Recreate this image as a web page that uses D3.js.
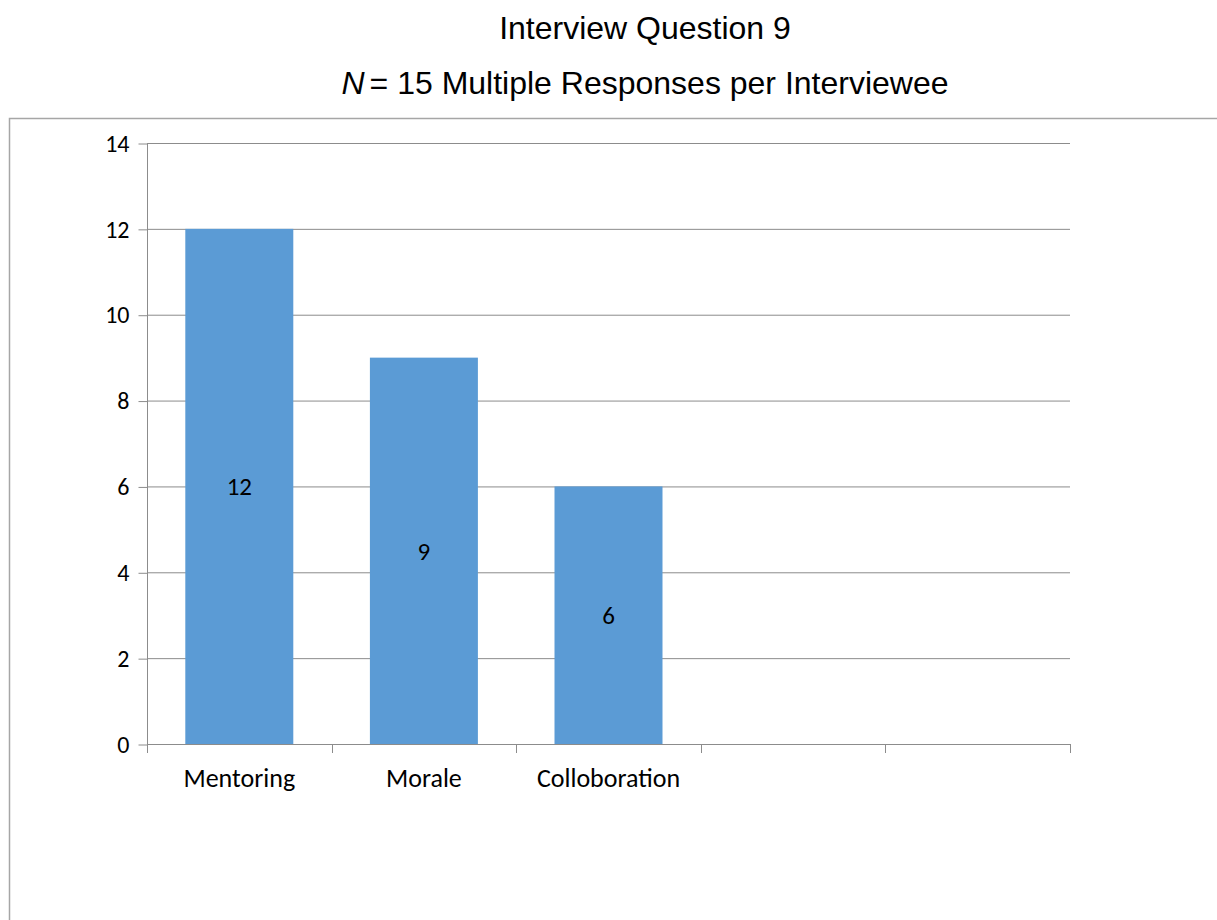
<!DOCTYPE html>
<html><head><meta charset="utf-8">
<script src="https://cdn.jsdelivr.net/npm/d3@7"></script>
<style>body{margin:0;background:#fff}svg{display:block}</style>
</head><body>
<svg id="c" width="1217" height="920"></svg>
<script>
const categories = ["Mentoring", "Morale", "Colloboration", "", " "];
const values = [12, 9, 6, null, null];
const yTicks = [0, 2, 4, 6, 8, 10, 12, 14];
const titleLine1 = "Interview Question 9";
const titleLine2 = "= 15 Multiple Responses per Interviewee";

(function () {
const svg = d3.select("#c");
const pL = 147, pR = 1070, pT = 143, pB = 744;
const lab = "Calibri, Carlito, 'Open Sans', sans-serif";

// outer chart border (clipped by page)
svg.append("rect").attr("x", 9.5).attr("y", 118.5).attr("width", 1300).attr("height", 900)
  .attr("fill", "none").attr("stroke", "#a6a6a6").attr("stroke-width", 1.5);

const x = d3.scaleBand().domain(categories).range([pL, pR]).paddingInner(0.415).paddingOuter(0.2075);
const y = d3.scaleLinear().domain([0, 14]).range([pB, pT]);

// gridlines
svg.append("g").selectAll("line").data(yTicks.filter(d => d > 0)).join("line")
  .attr("x1", pL).attr("x2", pR).attr("y1", d => y(d) + 0.5).attr("y2", d => y(d) + 0.5)
  .attr("stroke", "#8c8c8c").attr("stroke-width", 1);

// bars
const data = categories.map((c, i) => ({c, v: values[i]})).filter(d => d.v != null);
svg.append("g").selectAll("rect").data(data).join("rect")
  .attr("x", d => x(d.c)).attr("width", x.bandwidth())
  .attr("y", d => y(d.v)).attr("height", d => y(0) - y(d.v))
  .attr("fill", "#5b9bd5");

// value labels
svg.append("g").selectAll("text").data(data).join("text")
  .attr("x", d => x(d.c) + x.bandwidth() / 2)
  .attr("y", d => (y(d.v) + y(0)) / 2 + 9)
  .attr("text-anchor", "middle").attr("font-family", lab).attr("font-size", 25).attr("fill", "#000")
  .text(d => d.v);

// y axis
const yAxis = d3.axisLeft(y).tickValues(yTicks).tickSize(9).tickPadding(9).tickFormat(d3.format("d"));
const gy = svg.append("g").attr("transform", `translate(${pL + 0.5},0.5)`).call(yAxis);
gy.select(".domain").attr("stroke", "#8c8c8c").attr("d", `M0,${pT}V${pB}`);
gy.selectAll(".tick line").attr("stroke", "#8c8c8c");
gy.selectAll(".tick text").attr("font-family", lab).attr("font-size", 24).attr("fill", "#000");

// x axis baseline and ticks
const step = x.step();
const bounds = d3.range(categories.length + 1).map(i => pL + i * step);
svg.append("line").attr("x1", pL).attr("x2", pR).attr("y1", pB + 0.5).attr("y2", pB + 0.5)
  .attr("stroke", "#8c8c8c");
svg.append("g").selectAll("line").data(bounds).join("line")
  .attr("x1", d => Math.round(d) + 0.5).attr("x2", d => Math.round(d) + 0.5)
  .attr("y1", pB).attr("y2", pB + 9).attr("stroke", "#8c8c8c");
svg.append("g").selectAll("text").data(categories).join("text")
  .attr("x", d => x(d) + x.bandwidth() / 2).attr("y", pB + 43)
  .attr("text-anchor", "middle").attr("font-family", lab).attr("font-size", 26).attr("fill", "#000")
  .text(d => d.trim());

// titles
const tf = "'Liberation Sans', Arial, sans-serif";
svg.append("text").attr("x", 645).attr("y", 39).attr("text-anchor", "middle")
  .attr("font-family", tf).attr("font-size", 32).text(titleLine1);
const t2 = svg.append("text").attr("x", 645).attr("y", 94).attr("text-anchor", "middle")
  .attr("font-family", tf).attr("font-size", 32);
t2.append("tspan").attr("font-style", "italic").text("N");
t2.append("tspan").attr("dx", 5).text(titleLine2);
})();
</script>
</body></html>
